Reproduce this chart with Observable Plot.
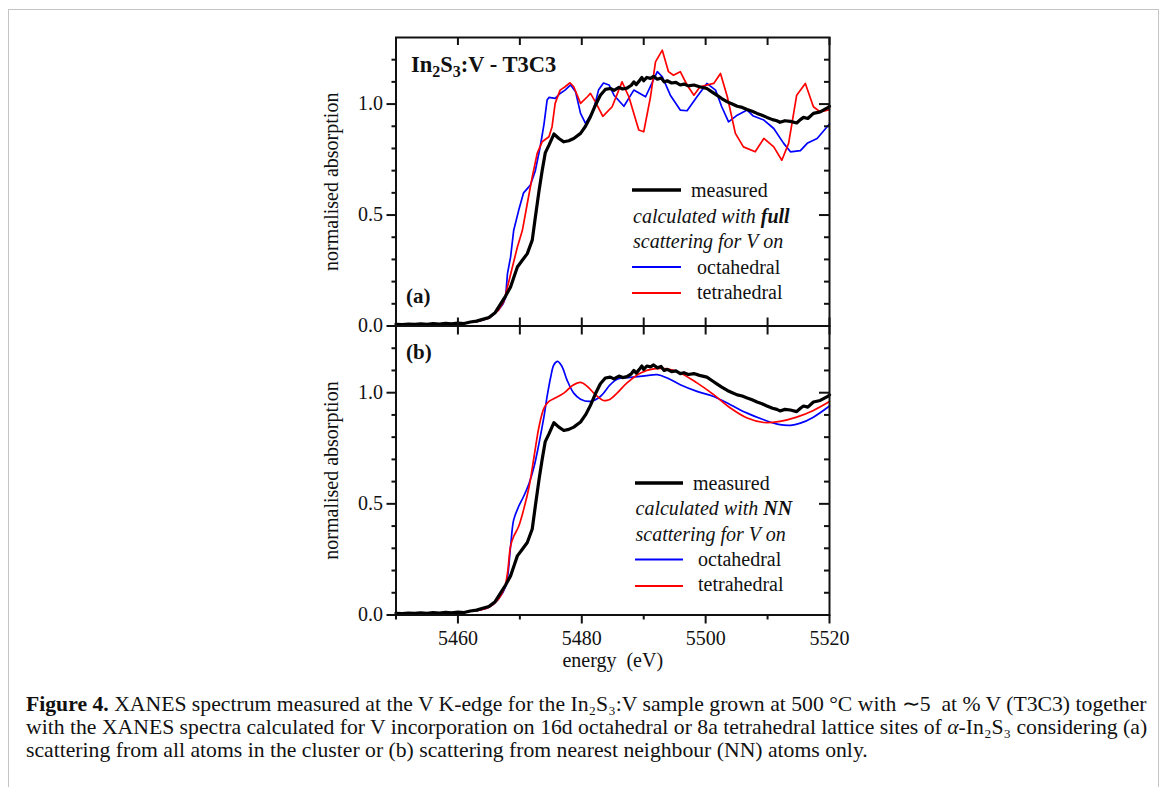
<!DOCTYPE html>
<html><head><meta charset="utf-8">
<script src="https://cdn.jsdelivr.net/npm/d3@7"></script>
<script src="https://cdn.jsdelivr.net/npm/@observablehq/plot@0.6"></script>
<style>
body{margin:0;background:#fff;width:1167px;height:787px;overflow:hidden;position:relative;font-family:"Liberation Serif","Times New Roman",serif;color:#111;}
#border{position:absolute;left:8px;top:9px;width:1149px;height:800px;border:1.5px solid #c4c4c4;border-bottom:none;}
#pa,#pb{position:absolute;left:0;}
#pa{top:0;} #pb{top:320px;}
#caption{position:absolute;left:26px;top:693px;font-size:21.7px;line-height:23px;white-space:nowrap;}
</style></head><body>
<div id="border"></div>
<div id="pa"></div><div id="pb"></div>
<div id="caption"><b>Figure 4.</b> XANES spectrum measured at the V K-edge for the In₂S₃:V sample grown at 500 °C with ∼5&nbsp; at % V (T3C3) together<br>with the XANES spectra calculated for V incorporation on 16d octahedral or 8a tetrahedral lattice sites of <i>α</i>-In₂S₃ considering (a)<br>scattering from all atoms in the cluster or (b) scattering from nearest neighbour (NN) atoms only.</div>
<script>
// ---------- data (energy in eV, normalised absorption) ----------
const measuredE = [5450,5451,5452,5453,5454,5455,5456,5457,5458,5459,5460,5461,5462,5463,5464,5465,5466,5466.9,5467.7,5468.5,5469.1,5469.6,5470.4,5471.2,5472.0,5472.5,5473.1,5473.6,5474.1,5474.7,5475.5,5476.3,5477.1,5477.9,5478.7,5479.8,5480.6,5481.4,5482.2,5483.0,5483.8,5484.6,5485.2,5486.0,5486.6,5487.3,5488.0,5488.4,5488.8,5489.3,5489.7,5490.0,5490.5,5491.1,5491.6,5492.2,5492.8,5493.3,5493.8,5494.5,5495.2,5495.9,5496.5,5497.2,5498.1,5499.0,5500.2,5501.0,5501.8,5502.6,5503.5,5504.3,5505.1,5505.9,5506.7,5507.5,5508.3,5509.1,5509.9,5510.8,5511.5,5512.0,5512.8,5513.7,5514.7,5515.3,5515.8,5516.5,5517.4,5518.5,5519.8,5520];
const measuredV = [0.008,0.006,0.009,0.007,0.010,0.008,0.011,0.009,0.012,0.010,0.013,0.011,0.018,0.022,0.030,0.038,0.060,0.100,0.135,0.176,0.225,0.266,0.296,0.326,0.387,0.490,0.610,0.700,0.780,0.815,0.865,0.845,0.830,0.835,0.845,0.868,0.900,0.943,0.995,1.040,1.066,1.070,1.062,1.075,1.068,1.072,1.085,1.100,1.088,1.105,1.120,1.105,1.120,1.116,1.125,1.112,1.118,1.100,1.105,1.095,1.098,1.086,1.090,1.082,1.086,1.078,1.070,1.055,1.040,1.025,1.010,1.000,0.990,0.985,0.976,0.968,0.958,0.950,0.940,0.930,0.925,0.918,0.925,0.922,0.915,0.930,0.940,0.935,0.958,0.965,0.985,0.990];

const octaFullE = [5463,5465,5466.5,5467.3,5467.7,5468.0,5468.5,5469.0,5469.8,5470.6,5471.7,5472.5,5473.3,5473.9,5474.4,5474.7,5475.7,5476.5,5477.3,5478.2,5479.0,5479.8,5480.6,5481.9,5482.7,5483.5,5484.4,5485.2,5486.8,5488.4,5490.3,5492.2,5493.0,5494.3,5495.9,5497.0,5498.6,5500.2,5501.6,5502.6,5503.7,5505.1,5506.7,5507.7,5509.4,5511.0,5512.6,5513.7,5515.3,5516.4,5518.0,5520];
const octaFullV = [0.020,0.035,0.070,0.100,0.130,0.236,0.310,0.430,0.520,0.600,0.635,0.700,0.810,0.910,1.018,1.030,1.026,1.048,1.063,1.086,1.055,0.958,0.913,0.973,1.063,1.095,1.086,1.040,0.990,1.063,1.033,1.146,1.123,1.040,0.973,0.970,1.033,1.093,1.063,0.988,0.920,0.950,0.973,0.946,0.928,0.890,0.823,0.785,0.790,0.823,0.845,0.910];

const tetraFullE = [5463,5465,5466.5,5467.4,5468.0,5468.8,5469.6,5470.4,5471.2,5472.0,5472.8,5473.6,5474.7,5475.2,5475.7,5476.5,5477.3,5478.1,5478.7,5479.8,5480.9,5481.4,5482.2,5483.4,5484.9,5486.5,5487.6,5489.2,5490.0,5491.1,5491.9,5493.0,5494.0,5494.8,5495.9,5497.0,5498.1,5499.1,5501.3,5502.4,5503.5,5504.8,5506.1,5508.0,5509.4,5511.0,5512.3,5513.4,5514.7,5516.1,5517.4,5518.5,5520];
const tetraFullV = [0.020,0.035,0.070,0.110,0.176,0.266,0.356,0.430,0.552,0.672,0.778,0.830,0.853,0.898,1.003,1.063,1.078,1.096,1.078,1.003,1.033,1.048,1.010,0.945,0.988,1.100,1.033,0.883,0.875,1.033,1.190,1.243,1.146,1.130,1.146,1.086,1.040,1.078,1.093,1.138,1.033,0.868,0.807,0.785,0.845,0.807,0.747,0.823,1.040,1.093,0.988,0.965,0.975];

const octaNNE = [5463,5465,5466.5,5467.7,5468.5,5469.0,5469.8,5470.6,5471.5,5472.3,5473.1,5473.9,5474.4,5475.0,5475.5,5476.1,5476.8,5477.6,5478.7,5479.8,5481.4,5483.0,5484.6,5485.7,5487.8,5490.5,5492.2,5493.8,5495.9,5498.6,5501.3,5504.0,5506.7,5509.4,5512.0,5513.7,5515.3,5517.4,5520];
const octaNNV = [0.020,0.035,0.070,0.128,0.308,0.428,0.488,0.533,0.593,0.668,0.773,0.893,0.983,1.073,1.126,1.141,1.118,1.058,0.998,0.971,0.961,0.983,1.036,1.061,1.069,1.077,1.081,1.066,1.036,1.006,0.983,0.946,0.908,0.878,0.856,0.853,0.863,0.890,0.940];

const tetraNNE = [5463,5465,5466.5,5467.5,5468.0,5468.5,5469.0,5469.8,5470.6,5471.5,5472.3,5473.1,5473.9,5474.7,5475.7,5477.1,5478.5,5479.8,5480.9,5482.2,5483.5,5484.4,5485.7,5487.3,5489.5,5491.6,5493.8,5495.9,5498.6,5501.3,5504.0,5506.7,5509.4,5512.0,5514.7,5517.4,5520];
const tetraNNV = [0.020,0.035,0.070,0.120,0.188,0.310,0.353,0.398,0.473,0.578,0.713,0.848,0.931,0.961,0.976,0.998,1.032,1.046,1.028,0.991,0.965,0.968,0.998,1.044,1.089,1.107,1.107,1.089,1.044,0.991,0.931,0.886,0.866,0.871,0.890,0.920,0.960];

const xDomain = [5450, 5520];
const yDomain = [0, 1.3];
const xTicks10 = [5450,5460,5470,5480,5490,5500,5510,5520];
const xMajor = [5460,5480,5500,5520];
const xMinor = [5450,5470,5490,5510];
const yMajor = [0, 0.5, 1.0];
const yMinor = [0.1,0.2,0.3,0.4,0.6,0.7,0.8,0.9,1.1,1.2];
const yLabel = "normalised absorption";
const xLabel = "energy  (eV)";

const zip = (E, V) => E.map((e, i) => ({E: e, v: V[i]}));
const measured = zip(measuredE, measuredV);
const octaFull = zip(octaFullE, octaFullV);
const tetraFull = zip(tetraFullE, tetraFullV);
const octaNN = zip(octaNNE, octaNNV);
const tetraNN = zip(tetraNNE, tetraNNV);

// ---------- layout ----------
const W = 860, ML = 395.5, MR = 31;
const FW = W - ML - MR;
const FONT = "'Liberation Serif','Times New Roman',serif";
const BLUE = "#0000ff", RED = "#ff0000";
const style = {fontFamily: FONT, fontSize: "20px", background: "transparent", overflow: "visible", color: "#111"};

function frameTicks(FH, topLen, bottomLen) {
  return [
    Plot.tickX(xTicks10, {x: d => d, insetBottom: FH - topLen, strokeWidth: 2, stroke: "#111"}),
    Plot.tickX(xTicks10, {x: d => d, insetTop: FH - bottomLen, strokeWidth: 2, stroke: "#111"}),
    Plot.tickY(yMajor, {y: d => d, insetLeft: FW - 10, strokeWidth: 2, stroke: "#111"}),
    Plot.tickY(yMinor, {y: d => d, insetLeft: FW - 5, strokeWidth: 2, stroke: "#111"}),
    Plot.axisY(yMajor, {anchor: "left", tickSize: 9, tickPadding: 4, strokeWidth: 2, fontSize: 20, tickFormat: d3.format(".1f"), label: null}),
    Plot.axisY(yMinor, {anchor: "left", tickSize: 4, strokeWidth: 2, tickFormat: () => "", label: null}),
    Plot.text([yLabel], {frameAnchor: "left", textAnchor: "middle", rotate: -90, dx: -64.5, lineAnchor: "middle", fontSize: 20}),
    Plot.frame({strokeWidth: 2, stroke: "#111"})
  ];
}

// Panel (a)
const HA = 330, MTA = 37, MBA = 4.5;
const FHA = HA - MTA - MBA;
const plotA = Plot.plot({
  width: W, height: HA, marginLeft: ML, marginRight: MR, marginTop: MTA, marginBottom: MBA,
  x: {domain: xDomain, axis: null, label: null},
  y: {domain: yDomain, label: null},
  style,
  marks: [
    Plot.line(octaFull, {x: "E", y: "v", stroke: BLUE, strokeWidth: 1.7}),
    Plot.line(tetraFull, {x: "E", y: "v", stroke: RED, strokeWidth: 1.7}),
    Plot.line(measured, {x: "E", y: "v", stroke: "#000", strokeWidth: 3.2}),
    ...frameTicks(FHA, 8, 8)
  ]
});
document.getElementById("pa").append(plotA);

// Panel (b)
const TOPB = 320, HB = 370, MTB = 5.5, MBB = 75.5;
const FHB = HB - MTB - MBB;
const plotB = Plot.plot({
  width: W, height: HB, marginLeft: ML, marginRight: MR, marginTop: MTB, marginBottom: MBB,
  x: {domain: xDomain, label: null},
  y: {domain: yDomain, label: null},
  style,
  marks: [
    Plot.line(octaNN, {x: "E", y: "v", stroke: BLUE, strokeWidth: 1.7, curve: "catmull-rom"}),
    Plot.line(tetraNN, {x: "E", y: "v", stroke: RED, strokeWidth: 1.7, curve: "catmull-rom"}),
    Plot.line(measured, {x: "E", y: "v", stroke: "#000", strokeWidth: 3.2}),
    ...frameTicks(FHB, 9, 0.01),
    Plot.axisX(xMajor, {anchor: "bottom", tickSize: 9, tickPadding: 7, strokeWidth: 2, fontSize: 20, tickFormat: d => String(d), label: null}),
    Plot.axisX(xMinor, {anchor: "bottom", tickSize: 5, strokeWidth: 2, tickFormat: () => "", label: null}),
    Plot.text([xLabel], {frameAnchor: "bottom", dy: 46, lineAnchor: "middle", fontSize: 20})
  ]
});
document.getElementById("pb").append(plotB);

// ---------- annotations & legends (pixel layout, page coordinates) ----------
function addText(svg, oy, x, y, parts, opts = {}) {
  const size = opts.size || 20;
  const t = d3.select(svg).append("text")
    .attr("x", x).attr("y", y - oy)
    .attr("text-anchor", "start")
    .attr("font-family", FONT).attr("font-size", size)
    .attr("fill", "#111");
  if (opts.weight) t.attr("font-weight", opts.weight);
  if (opts.italic) t.attr("font-style", "italic");
  for (const p of parts) {
    const s = t.append("tspan").text(p.t);
    if (p.b) s.attr("font-weight", "bold");
    if (p.sub) s.attr("font-size", Math.round(size * 0.7)).attr("dy", 5);
    if (p.up) s.attr("dy", -5);
  }
  return t;
}
function addLine(svg, oy, x1, x2, y, color, w) {
  d3.select(svg).append("line")
    .attr("x1", x1).attr("x2", x2).attr("y1", y - oy).attr("y2", y - oy)
    .attr("stroke", color).attr("stroke-width", w);
}

// title and panel labels
addText(plotA, 0, 411, 71.5, [
  {t: "In"}, {t: "2", sub: true}, {t: "S", up: true}, {t: "3", sub: true}, {t: ":V - T3C3", up: true}
], {weight: "bold", size: 22.5});
addText(plotA, 0, 406, 302.5, [{t: "(a)"}], {weight: "bold", size: 21});
addText(plotB, TOPB, 406, 359, [{t: "(b)"}], {weight: "bold", size: 21});

// legend (a)
addLine(plotA, 0, 632, 681, 190, "#000", 3.5);
addText(plotA, 0, 691, 197, [{t: "measured"}]);
addText(plotA, 0, 633, 223, [{t: "calculated with "}, {t: "full", b: true}], {italic: true});
addText(plotA, 0, 633, 248, [{t: "scattering for V on"}], {italic: true});
addLine(plotA, 0, 632, 681, 267, BLUE, 2);
addText(plotA, 0, 697, 273.5, [{t: "octahedral"}]);
addLine(plotA, 0, 632, 681, 293, RED, 2);
addText(plotA, 0, 697, 298.5, [{t: "tetrahedral"}]);

// legend (b)
addLine(plotB, TOPB, 635, 683, 483, "#000", 3.5);
addText(plotB, TOPB, 693, 489.5, [{t: "measured"}]);
addText(plotB, TOPB, 635.5, 515, [{t: "calculated with "}, {t: "NN", b: true}], {italic: true});
addText(plotB, TOPB, 635.5, 540.5, [{t: "scattering for V on"}], {italic: true});
addLine(plotB, TOPB, 635, 683, 559.5, BLUE, 2);
addText(plotB, TOPB, 698, 566, [{t: "octahedral"}]);
addLine(plotB, TOPB, 635, 683, 586, RED, 2);
addText(plotB, TOPB, 698, 591, [{t: "tetrahedral"}]);
</script>
</body></html>
